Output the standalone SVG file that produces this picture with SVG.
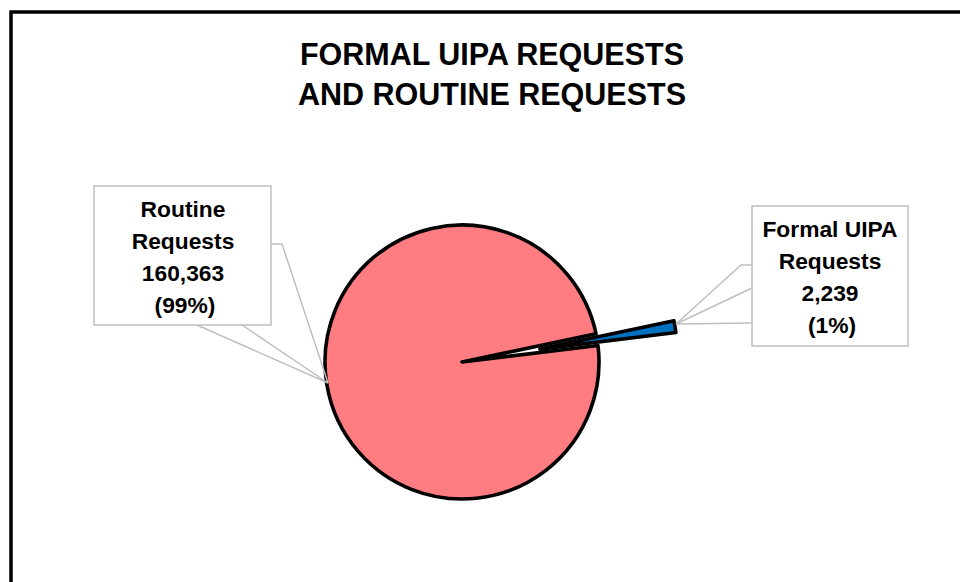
<svg xmlns="http://www.w3.org/2000/svg" width="960" height="582" viewBox="0 0 960 582">
<style>
.frame{fill:#ffffff;stroke:#000000;stroke-width:3.5}
.title{font-family:"Liberation Sans",Arial,sans-serif;font-weight:bold;font-size:30.5px;fill:#000000;text-anchor:middle}
.lbl{font-family:"Liberation Sans",Arial,sans-serif;font-weight:bold;font-size:22.8px;fill:#000000;text-anchor:middle}
.box{fill:#ffffff;stroke:#BFBFBF;stroke-width:1.5}
.leader{fill:none;stroke:#BFBFBF;stroke-width:1.5}
.slice{stroke:#000000;stroke-width:3.6;stroke-linejoin:round}
</style>
<rect class="frame" x="11" y="12" width="1000" height="1000"/>
<g id="title">
<text class="title" x="492" y="65">FORMAL UIPA REQUESTS</text>
<text class="title" x="492" y="105">AND ROUTINE REQUESTS</text>
</g>
<g id="pie">
<path id="slice-routine" class="slice" fill="#FF7C80" d="M462,362 L598.0,345.44 A137,137 0 1 1 596.06,333.75 Z"/>
<path id="slice-formal" class="slice" fill="#0070C0" d="M539.9,349.1 L675.9,332.5 A137,137 0 0 0 673.96,320.85 Z"/>
</g>
<g id="connectors">
<polyline class="leader" points="271,244 282,244 328,383"/>
<polyline class="leader" points="197,325 328,383 242,325"/>
<polyline class="leader" points="752,265 741,265 676,324"/>
<polyline class="leader" points="752,288 676,324 752,323"/>
</g>
<g id="label-routine">
<rect class="box" x="94" y="186" width="177" height="139"/>
<text class="lbl" x="183" y="217">Routine</text>
<text class="lbl" x="183" y="249">Requests</text>
<text class="lbl" x="183" y="281">160,363</text>
<text class="lbl" x="185" y="313">(99%)</text>
</g>
<g id="label-formal">
<rect class="box" x="752" y="206" width="156" height="140"/>
<text class="lbl" x="830" y="237">Formal UIPA</text>
<text class="lbl" x="830" y="269">Requests</text>
<text class="lbl" x="830" y="301">2,239</text>
<text class="lbl" x="832" y="333">(1%)</text>
</g>
</svg>
